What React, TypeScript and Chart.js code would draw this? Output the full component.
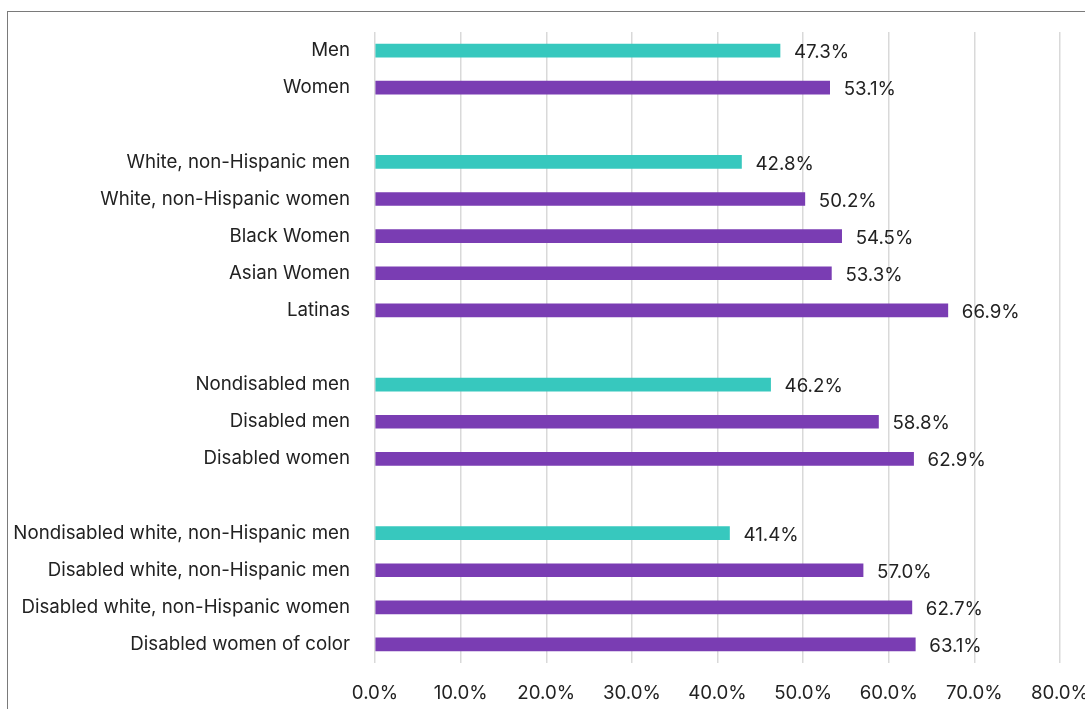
import React, { useEffect, useRef } from "react";
import { Chart, registerables } from "chart.js";

Chart.register(...registerables);

const categories: string[] = [
  "Men",
  "Women",
  "",
  "White, non-Hispanic men",
  "White, non-Hispanic women",
  "Black Women",
  "Asian Women",
  "Latinas",
  "",
  "Nondisabled men",
  "Disabled men",
  "Disabled women",
  "",
  "Nondisabled white, non-Hispanic men",
  "Disabled white, non-Hispanic men",
  "Disabled white, non-Hispanic women",
  "Disabled women of color",
];

const values: (number | null)[] = [
  47.3, 53.1, null, 42.8, 50.2, 54.5, 53.3, 66.9, null, 46.2, 58.8, 62.9, null, 41.4, 57.0, 62.7, 63.1,
];

const isReference: boolean[] = [
  true, false, false, true, false, false, false, false, false, true, false, false, false, true, false, false, false,
];

const xTicks: number[] = [0, 10, 20, 30, 40, 50, 60, 70, 80];

const TEAL = "#37C8BE";
const PURPLE = "#7A3DB3";
const TEXT = "#222222";
const FONT = "Inter";
const FONT_SIZE = 18.7;

const valueLabels = {
  id: "valueLabels",
  afterDatasetsDraw(chart: any) {
    const ctx = chart.ctx;
    const meta = chart.getDatasetMeta(0);
    ctx.save();
    ctx.font = `${FONT_SIZE}px ${FONT}`;
    ctx.fillStyle = TEXT;
    ctx.textAlign = "left";
    ctx.textBaseline = "middle";
    meta.data.forEach((bar: any, i: number) => {
      const v = values[i];
      if (v === null || v === undefined) return;
      ctx.fillText(v.toFixed(1) + "%", bar.x + 14, bar.y + 2);
    });
    ctx.restore();
  },
};

export default function App() {
  const ref = useRef<HTMLCanvasElement | null>(null);

  useEffect(() => {
    if (!ref.current) return;
    const chart = new Chart(ref.current, {
      type: "bar",
      data: {
        labels: categories,
        datasets: [
          {
            data: values as any,
            backgroundColor: isReference.map((r) => (r ? TEAL : PURPLE)),
            barThickness: 13,
            borderWidth: 0,
          },
        ],
      },
      options: {
        indexAxis: "y",
        animation: false,
        responsive: false,
        layout: { padding: { top: 20, right: 25, left: 0, bottom: 0 } },
        plugins: {
          legend: { display: false },
          tooltip: { enabled: false },
        },
        scales: {
          x: {
            min: 0,
            max: 80,
            afterBuildTicks: (scale: any) => {
              scale.ticks = xTicks.map((v) => ({ value: v }));
            },
            afterFit: (scale: any) => {
              scale.height = 46;
              scale.paddingLeft = 0;
              scale.paddingRight = 0;
            },
            grid: { color: "#d9d9d9", lineWidth: 1.5, drawTicks: false },
            border: { display: false },
            ticks: {
              padding: 19,
              color: TEXT,
              font: { family: FONT, size: FONT_SIZE },
              maxRotation: 0,
              callback: (v: any) => Number(v).toFixed(1) + "%",
            },
          },
          y: {
            afterFit: (scale: any) => {
              scale.width = 367;
              scale.paddingTop = 0;
              scale.paddingBottom = 0;
            },
            grid: { display: false, drawTicks: false },
            border: { display: false },
            ticks: {
              padding: 25,
              color: TEXT,
              autoSkip: false,
              font: { family: FONT, size: FONT_SIZE },
            },
          },
        },
      },
      plugins: [valueLabels],
    });
    return () => chart.destroy();
  }, []);

  return (
    <div
      style={{
        position: "fixed",
        left: 7,
        top: 11,
        right: 0,
        bottom: 0,
        borderTop: "1px solid #7a7a7a",
        borderLeft: "1px solid #7a7a7a",
        background: "#fff",
        overflow: "hidden",
      }}
    >
      <canvas ref={ref} width={1077} height={697} style={{ display: "block" }} />
    </div>
  );
}
